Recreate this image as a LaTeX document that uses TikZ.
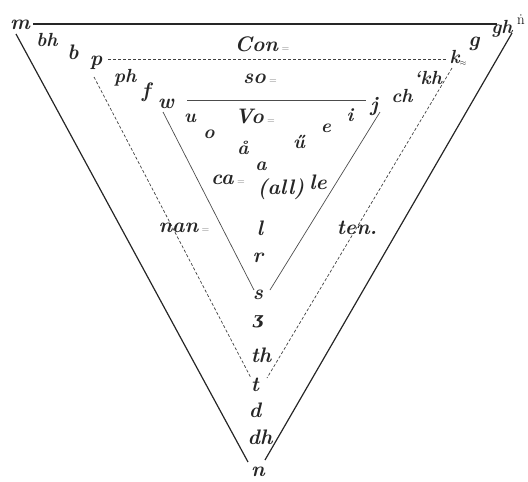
\documentclass[tikz,border=0pt]{standalone}
\usepackage{fontspec}
\newfontfamily\dvs{DejaVu Serif}
\newcommand\eqsign{{\fontsize{10}{10}\selectfont\mdseries\upshape\color{black!55}=}}
\begin{document}
\begin{tikzpicture}[x=1pt,y=-1pt,
  lbl/.style={font=\fontsize{21}{23}\selectfont\bfseries\itshape, inner sep=0pt, text=black!85},
  sml/.style={font=\fontsize{19}{21}\selectfont\bfseries\itshape, inner sep=0pt, text=black!85},
  outer/.style={line width=1.2pt, black!85},
  innerline/.style={line width=0.7pt, black!70},
  dashline/.style={line width=0.7pt, black!75, dash pattern=on 3pt off 2pt}]
\useasboundingbox (0,0) rectangle (528,482);
% corners
\coordinate (oTL) at (33,24);  \coordinate (oTR) at (497,24);
\coordinate (oL) at (16,34);   \coordinate (oR) at (512,33);
\coordinate (oBL) at (248,462); \coordinate (oBR) at (265,460);
\coordinate (dTL) at (108,59); \coordinate (dTR) at (447,59);
\coordinate (dL) at (94,77);   \coordinate (dR) at (452,68);
\coordinate (dBL) at (251,378); \coordinate (dBR) at (267,378);
\coordinate (iTL) at (187,100); \coordinate (iTR) at (366,100);
\coordinate (iL) at (163,112); \coordinate (iR) at (380,112);
\coordinate (iBL) at (254,290); \coordinate (iBR) at (270,290);
% lines
\draw[outer] (oTL) -- (oTR);
\draw[outer] (oL) -- (oBL);
\draw[outer] (oR) -- (oBR);
\draw[dashline] (dTL) -- (dTR);
\draw[dashline] (dL) -- (dBL);
\draw[dashline] (dR) -- (dBR);
\draw[innerline] (iTL) -- (iTR);
\draw[innerline] (iL) -- (iBL);
\draw[innerline] (iR) -- (iBR);
% labels
\node[lbl] (m) at (20,25) {m};
\node[sml] (bh) at (47,40) {bh};
\node[lbl] (b) at (73,52) {b};
\node[lbl] (p) at (96,63) {p};
\node[sml] (ph) at (125,78) {ph};
\node[lbl] (f) at (146,92) {f};
\node[lbl] (w) at (166,104) {w};
\node[sml] (u1) at (190,118) {u};
\node[sml] (o) at (209,134) {o};
\node[sml] (aring) at (243,148) {å};
\node[sml] (a) at (261,166) {a};
\node[lbl] (ca) at (228,180) {ca\,\eqsign};
\node[lbl] (all) at (281,189) {(all)};
\node[lbl] (le) at (318,182) {le};
\node[sml] (udb) at (299,142) {ű};
\node[sml] (e) at (326,128) {e};
\node[sml] (i) at (350,115) {i};
\node[lbl] (j) at (374,107) {j};
\node[sml] (ch) at (402,96) {ch};
\node[sml] (kh) at (428,78) {`kh};
\node[sml] (k) at (458,58) {k\raisebox{-2pt}{\fontsize{8}{8}\selectfont\mdseries$\approx$}};
\node[lbl] (g) at (474,44) {g};
\node[sml] (gh) at (502,29) {gh};
\node[font=\fontsize{15}{17}\selectfont, inner sep=0pt] (nd) at (521,20) {\.{n}};
\node[lbl] (Con) at (262,44) {Con\,\eqsign};
\node[lbl] (so) at (260,79) {so\,\eqsign};
\node[lbl] (Vo) at (255,116) {Vo\,\eqsign};
\node[lbl] (nan) at (184,228) {nan\,\eqsign};
\node[lbl] (l) at (260,228) {l};
\node[lbl] (ten) at (357,228) {ten.};
\node[lbl] (r) at (258,258) {r};
\node[lbl] (s) at (258,295) {s};
\node[font=\fontsize{17}{19}\selectfont\dvs\bfseries\itshape, inner sep=0pt, text=black!85] (ezh) at (258,322) {ʒ};
\node[lbl] (th) at (261,355) {th};
\node[lbl] (t) at (255,385) {t};
\node[lbl] (d) at (255,410) {d};
\node[lbl] (dh) at (260,437) {dh};
\node[lbl] (n) at (258,472) {n};
\end{tikzpicture}
\end{document}
